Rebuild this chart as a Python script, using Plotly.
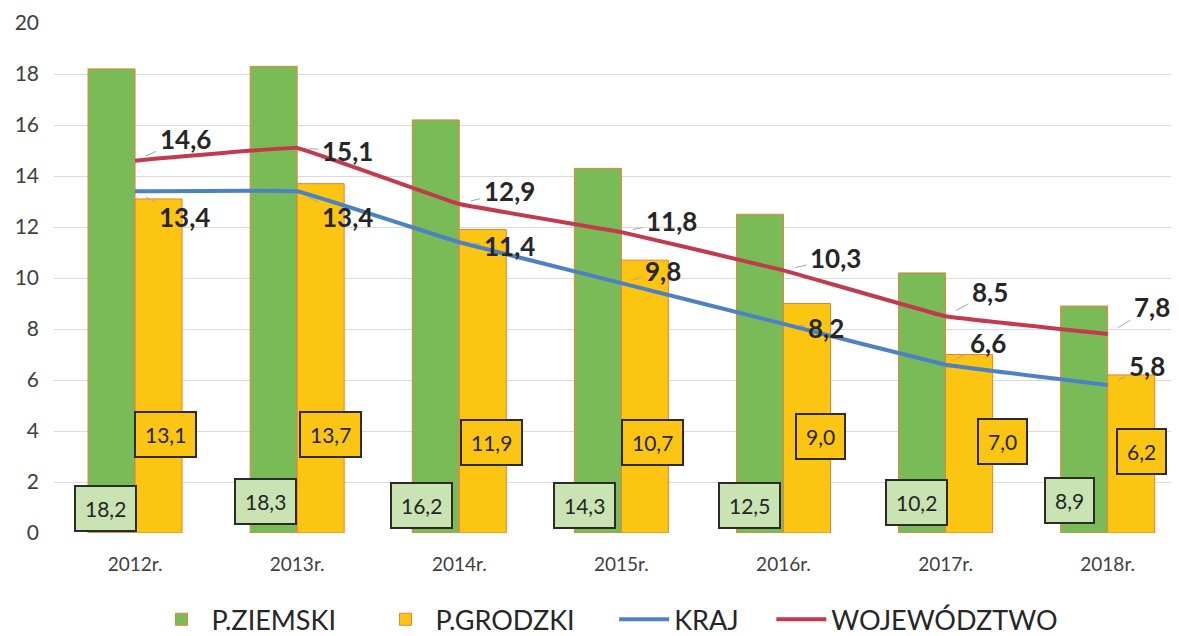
import plotly.graph_objects as go

# data
years = ["2012r.", "2013r.", "2014r.", "2015r.", "2016r.", "2017r.", "2018r."]
p_ziemski = [18.2, 18.3, 16.2, 14.3, 12.5, 10.2, 8.9]
p_grodzki = [13.1, 13.7, 11.9, 10.7, 9.0, 7.0, 6.2]
kraj = [13.4, 13.4, 11.4, 9.8, 8.2, 6.6, 5.8]
wojewodztwo = [14.6, 15.1, 12.9, 11.8, 10.3, 8.5, 7.8]

GREEN = "#78bb57"
YELLOW = "#fbc512"
EDGE = "#e8803c"
BLUE = "#4c82c3"
RED = "#c23a4e"
TXT = "#262626"
FONT = "Lato, 'Open Sans', sans-serif"
NB = "\u00a0"  # padding so legend entries spread out like the original

def pl(v):
  return f"{v:.1f}".replace(".", ",")

fig = go.Figure()

fig.add_trace(go.Bar(x=years, y=p_ziemski, name="P.ZIEMSKI" + NB * 5,
                     marker=dict(color=GREEN, line=dict(color=EDGE, width=1))))
fig.add_trace(go.Bar(x=years, y=p_grodzki, name="P.GRODZKI" + NB * 5,
                     marker=dict(color=YELLOW, line=dict(color=EDGE, width=1))))
fig.add_trace(go.Scatter(x=years, y=kraj, name="KRAJ" + NB * 4, mode="lines",
                         line=dict(color=BLUE, width=4, shape="spline", smoothing=0.15)))
fig.add_trace(go.Scatter(x=years, y=wojewodztwo, name="WOJEWÓDZTWO", mode="lines",
                         line=dict(color=RED, width=4, shape="spline", smoothing=0.15)))

# label placement (pixel offsets, y of boxes in axis units)
red_off = [(50, -22), (50, 3), (50, -13), (50, -11), (52, -12), (44, -24), (44, -27)]
blue_off = [(49, 26), (50, 26), (50, 4), (42, -12), (43, 4), (42, -22), (39, -19)]
box_y_green = [0.98, 1.22, 1.06, 1.06, 1.06, 1.18, 1.29]
box_dx_green = [-30, -32, -38, -37, -34, -29, -38]
box_y_yellow = [3.88, 3.85, 3.53, 3.53, 3.8, 3.57, 3.18]
box_dx_yellow = [30, 33, 32, 31, 37, 57, 34]

ann = []
for i, yr in enumerate(years):
  for vals, offs in ((wojewodztwo, red_off), (kraj, blue_off)):
    dx, dy = offs[i]
    ann.append(dict(x=yr, y=vals[i], text="<b>" + pl(vals[i]) + "</b>",
                    showarrow=True, ax=dx, ay=dy, arrowhead=0, arrowwidth=1,
                    arrowcolor="#a6a6a6", standoff=12, startstandoff=2,
                    font=dict(family=FONT, size=26, color=TXT)))
  ann.append(dict(x=yr, y=box_y_green[i], xshift=box_dx_green[i], text=pl(p_ziemski[i]),
                  showarrow=False, bgcolor="#c9e3b3", bordercolor="#2b2b2b",
                  borderwidth=2, borderpad=9,
                  font=dict(family=FONT, size=21, color=TXT)))
  ann.append(dict(x=yr, y=box_y_yellow[i], xshift=box_dx_yellow[i], text=pl(p_grodzki[i]),
                  showarrow=False, bgcolor="#fcc413", bordercolor="#2b2b2b",
                  borderwidth=2, borderpad=9,
                  font=dict(family=FONT, size=21, color=TXT)))

# the page body adds an 8px offset, margins compensate for it
fig.update_layout(
  width=1179, height=636,
  margin=dict(l=46, r=8, t=15, b=111, autoexpand=False),
  paper_bgcolor="white", plot_bgcolor="white",
  barmode="group", bargap=0.42, bargroupgap=0,
  annotations=ann,
  font=dict(family=FONT, color="#404040"),
  legend=dict(orientation="h", x=0.492, xanchor="center", y=-0.17, yanchor="middle",
              font=dict(family=FONT, size=27, color=TXT), itemwidth=50,
              traceorder="normal"),
)
fig.update_xaxes(range=[-0.5, 6.44], showline=False, showgrid=False, automargin=False,
                 tickfont=dict(size=19, color="#404040"), ticklabelstandoff=18)
fig.update_yaxes(range=[0, 20], dtick=2, showgrid=True, gridcolor="#dadada",
                 gridwidth=1, zeroline=False, showline=False, automargin=False,
                 tickfont=dict(size=21, color="#404040"), ticklabelstandoff=14)

fig.write_html("out.html")
